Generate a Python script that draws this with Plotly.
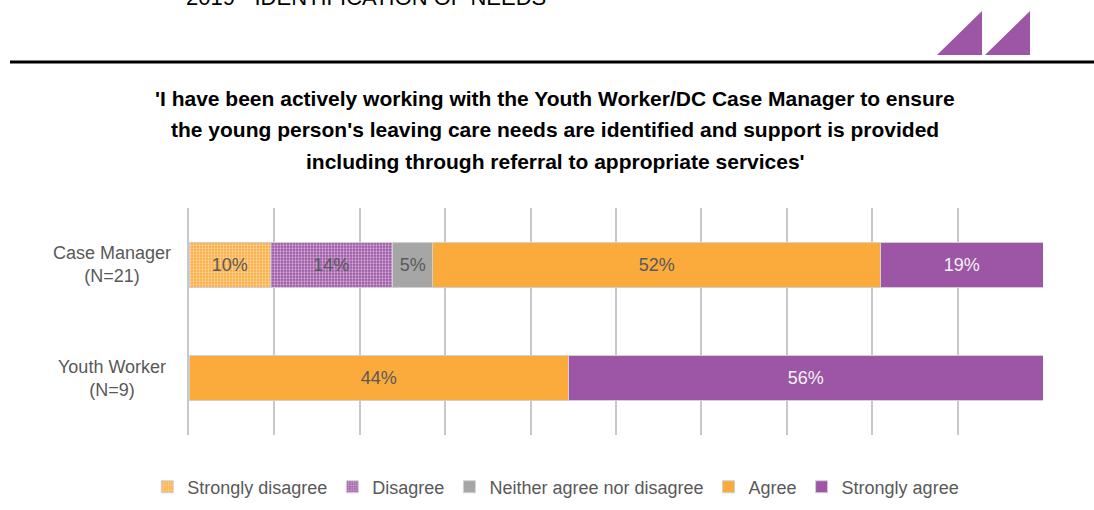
import plotly.graph_objects as go

groups = ["Case Manager<br>(N=21)", "Youth Worker<br>(N=9)"]
responses = ["Strongly disagree", "Disagree", "Neither agree nor disagree", "Agree", "Strongly agree"]
strongly_disagree = [9.52, 0]
disagree = [14.29, 0]
neither = [4.76, 0]
agree = [52.38, 44.44]
strongly_agree = [19.05, 55.56]
title_lines = [
    "'I have been actively working with the Youth Worker/DC Case Manager to ensure",
    "the young person's leaving care needs are identified and support is provided",
    "including through referral to appropriate services'",
]
header = "2019 - IDENTIFICATION OF NEEDS"

FONT = "Liberation Sans, Arial"
GREY_TXT = "#595959"
ORANGE = "#FAAB3C"
PURPLE = "#9C56A5"
GREY = "#A6A6A6"

series = [
    (strongly_disagree, ORANGE, dict(shape=".", fgcolor="white", bgcolor=ORANGE, size=3, solidity=0.45), GREY_TXT),
    (disagree, PURPLE, dict(shape=".", fgcolor="white", bgcolor=PURPLE, size=3, solidity=0.45), GREY_TXT),
    (neither, GREY, None, GREY_TXT),
    (agree, ORANGE, None, GREY_TXT),
    (strongly_agree, PURPLE, None, "#F2F2F2"),
]

fig = go.Figure()
for name, (vals, col, pat, tcol) in zip(responses, series):
    text = [f"{v:.0f}%" if v > 0 else "" for v in vals]
    marker = dict(color=col, line=dict(color="#D0D0D0", width=1))
    if pat:
        marker["pattern"] = pat
    fig.add_trace(go.Bar(
        y=groups, x=vals, name=name, orientation="h",
        marker=marker, text=text, textposition="inside",
        insidetextanchor="middle", textangle=0,
        textfont=dict(color=tcol, size=18, family=FONT),
    ))

# plot area: x 189-1043, y 208-435
def px(x):
    return (x - 189) / 854

def py(y):
    return (435 - y) / 227

# category labels, centred like the original
for g in groups:
    fig.add_annotation(text=g, xref="paper", yref="y", x=px(112), y=g,
                       showarrow=False, xanchor="center", yanchor="middle", align="center",
                       font=dict(size=18, color=GREY_TXT, family=FONT))

for i, line in enumerate(title_lines):
    fig.add_annotation(text=f"<b>{line}</b>", xref="paper", yref="paper",
                       x=px(555), y=py(98 + i * 31.5), showarrow=False,
                       xanchor="center", yanchor="middle",
                       font=dict(size=21, color="black", family=FONT))

fig.add_annotation(text=header, xref="paper", yref="paper", x=px(366), y=py(-3),
                   showarrow=False, xanchor="center", yanchor="middle",
                   font=dict(size=22, color="black", family=FONT))

fig.add_shape(type="line", xref="paper", yref="paper", x0=px(10), x1=px(1094),
              y0=py(62), y1=py(62), line=dict(color="black", width=3))
for x0 in (937, 985):
    fig.add_shape(type="path", xref="paper", yref="paper",
                  path=f"M {px(x0)} {py(55)} L {px(x0 + 45)} {py(55)} L {px(x0 + 45)} {py(11)} Z",
                  fillcolor=PURPLE, line=dict(width=0))

fig.update_layout(
    barmode="stack", bargap=0.6,
    width=1094, height=510,
    margin=dict(l=189, r=51, t=208, b=75),
    paper_bgcolor="white", plot_bgcolor="white",
    font=dict(family=FONT, color=GREY_TXT, size=18),
    legend=dict(orientation="h", xref="container", yref="container",
                x=0.508, y=0.045, xanchor="center", yanchor="middle",
                font=dict(size=18, color=GREY_TXT), traceorder="normal",
                itemwidth=30),
)
fig.update_xaxes(range=[0, 100], dtick=10, showgrid=True, gridcolor="#C8C8C8", gridwidth=2,
                 showticklabels=False, zeroline=False, showline=False)
fig.update_yaxes(autorange="reversed", showline=True, linecolor="#C8C8C8", linewidth=2,
                 ticks="", showticklabels=False)

fig.write_html("out.html", config={"displayModeBar": False},
               post_script="document.body.style.margin='0';")
